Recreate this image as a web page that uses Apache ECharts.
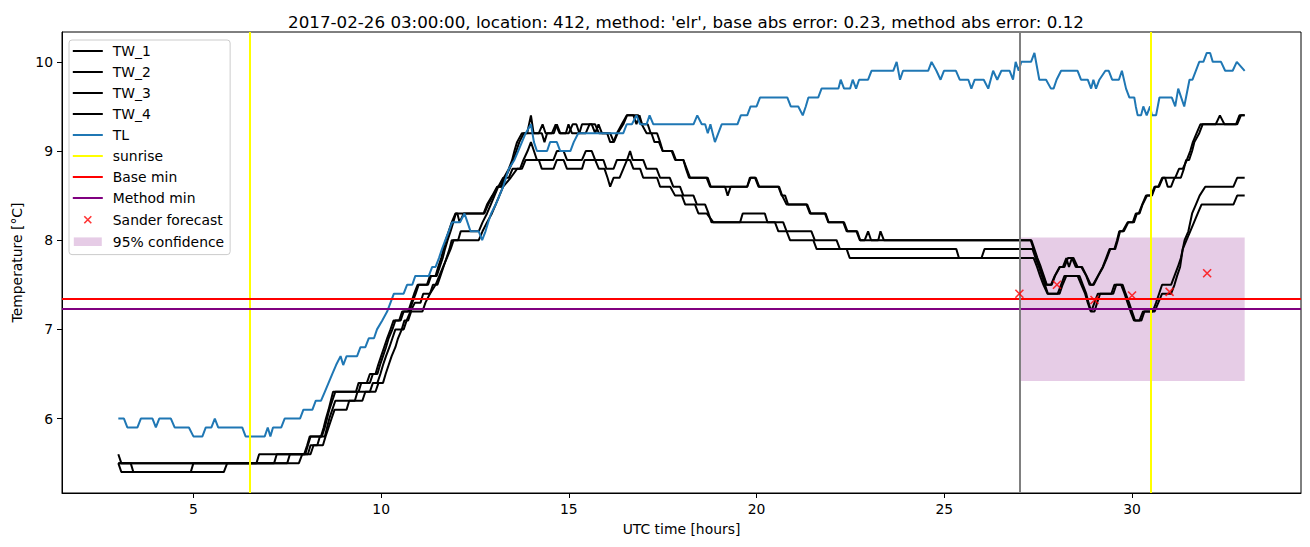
<!DOCTYPE html>
<html><head><meta charset="utf-8">
<script src="https://cdn.jsdelivr.net/npm/echarts@6/dist/echarts.min.js"></script>
<style>html,body{margin:0;padding:0;background:#fff}#chart{width:1310px;height:547px}</style>
</head><body><div id="chart"></div>
<script>
// ---------------- data ----------------
const TITLE = "2017-02-26 03:00:00, location: 412, method: 'elr', base abs error: 0.23, method abs error: 0.12";
const X_NAME = "UTC time [hours]";
const Y_NAME = "Temperature [°C]";
const X_TICKS = [5, 10, 15, 20, 25, 30];
const Y_TICKS = [6, 7, 8, 9, 10];

const TW_1 = [[3.0,5.6],[3.08,5.5],[6.68,5.5],[6.75,5.6],[7.95,5.6],[8.03,5.7],[8.1,5.8],[8.4,5.8],[8.47,5.9],[8.53,6.0],[8.6,6.1],[8.66,6.2],[8.72,6.3],[9.33,6.3],[9.4,6.4],[9.62,6.4],[9.7,6.5],[9.85,6.5],[9.92,6.6],[10.0,6.7],[10.08,6.8],[10.16,6.9],[10.25,7.0],[10.33,7.1],[10.48,7.1],[10.56,7.2],[10.72,7.2],[10.8,7.3],[10.88,7.4],[10.97,7.5],[11.22,7.5],[11.3,7.6],[11.45,7.6],[11.52,7.7],[11.6,7.8],[11.66,7.9],[11.72,8.0],[11.8,8.1],[11.88,8.2],[11.98,8.3],[12.73,8.3],[12.82,8.4],[12.96,8.5],[13.09,8.6],[13.18,8.6],[13.27,8.7],[13.4,8.8],[13.49,8.9],[13.55,9.0],[13.62,9.1],[13.75,9.2],[13.89,9.2],[13.99,9.4],[14.06,9.2],[14.28,9.2],[14.35,9.1],[14.42,9.2],[14.6,9.2],[14.68,9.3],[14.77,9.2],[14.92,9.2],[14.99,9.3],[15.08,9.2],[15.28,9.2],[15.35,9.3],[15.61,9.3],[15.7,9.2],[15.79,9.3],[15.88,9.2],[16.02,9.2],[16.1,9.1],[16.19,9.1],[16.28,9.2],[16.41,9.3],[16.54,9.4],[16.85,9.4],[16.94,9.3],[17.07,9.2],[17.2,9.2],[17.28,9.1],[17.4,9.1],[17.5,9.0],[17.74,9.0],[17.83,8.9],[18.05,8.9],[18.14,8.8],[18.23,8.7],[18.67,8.7],[18.76,8.6],[19.16,8.6],[19.23,8.5],[19.31,8.6],[19.75,8.6],[19.82,8.7],[19.96,8.7],[20.05,8.6],[20.58,8.6],[20.67,8.5],[20.76,8.5],[20.84,8.4],[21.33,8.4],[21.42,8.3],[21.82,8.3],[21.91,8.2],[22.31,8.2],[22.4,8.1],[22.66,8.1],[22.75,8.0],[22.88,8.0],[22.97,8.1],[23.05,8.0],[23.24,8.0],[23.3,8.1],[23.39,8.0],[27.32,8.0],[27.4,7.9],[27.48,7.8],[27.57,7.7],[27.65,7.6],[27.73,7.5],[27.84,7.5],[27.94,7.6],[28.07,7.7],[28.16,7.7],[28.25,7.8],[28.32,7.7],[28.4,7.8],[28.5,7.7],[28.65,7.7],[28.78,7.6],[28.87,7.5],[28.96,7.5],[29.09,7.6],[29.22,7.7],[29.31,7.8],[29.4,7.9],[29.53,7.9],[29.6,8.0],[29.66,8.1],[29.75,8.1],[29.88,8.2],[30.02,8.2],[30.1,8.3],[30.18,8.3],[30.27,8.4],[30.37,8.5],[30.51,8.5],[30.6,8.6],[30.7,8.6],[30.8,8.7],[30.88,8.7],[30.95,8.6],[31.04,8.6],[31.13,8.7],[31.3,8.7],[31.38,8.8],[31.44,8.9],[31.52,8.9],[31.6,9.0],[31.66,9.1],[31.79,9.2],[31.88,9.3],[32.23,9.3],[32.34,9.4],[32.46,9.3],[32.77,9.3],[32.86,9.4],[33.0,9.4]];

const TW_2 = [[3.0,5.5],[7.15,5.5],[7.22,5.6],[7.98,5.6],[8.05,5.7],[8.12,5.8],[8.42,5.8],[8.5,5.9],[8.56,6.0],[8.62,6.1],[8.7,6.2],[8.78,6.3],[9.4,6.3],[9.47,6.4],[9.7,6.4],[9.78,6.5],[9.9,6.5],[9.97,6.6],[10.05,6.7],[10.13,6.8],[10.2,6.9],[10.3,7.0],[10.38,7.1],[10.52,7.1],[10.6,7.2],[10.75,7.2],[10.83,7.3],[10.92,7.4],[11.0,7.5],[11.25,7.5],[11.33,7.6],[11.48,7.6],[11.56,7.7],[11.64,7.8],[11.7,7.9],[11.77,8.0],[11.85,8.1],[11.92,8.2],[11.99,8.3],[12.03,8.3],[12.09,8.2],[12.2,8.3],[12.75,8.3],[12.85,8.4],[12.98,8.5],[13.1,8.6],[13.22,8.6],[13.3,8.7],[13.42,8.8],[13.52,8.9],[13.6,9.0],[13.68,9.1],[13.8,9.2],[14.2,9.2],[14.3,9.3],[14.38,9.2],[14.55,9.2],[14.65,9.3],[14.75,9.2],[15.0,9.2],[15.1,9.3],[15.2,9.3],[15.28,9.2],[15.45,9.2],[15.55,9.3],[15.7,9.3],[15.8,9.2],[16.1,9.2],[16.2,9.1],[16.3,9.2],[16.45,9.3],[16.55,9.4],[16.72,9.4],[16.8,9.3],[16.88,9.4],[16.95,9.3],[17.1,9.3],[17.18,9.2],[17.35,9.2],[17.43,9.1],[17.5,9.0],[17.76,9.0],[17.85,8.9],[18.05,8.9],[18.12,8.8],[18.2,8.7],[18.7,8.7],[18.78,8.6],[19.75,8.6],[19.84,8.7],[19.98,8.7],[20.07,8.6],[20.6,8.6],[20.68,8.5],[20.8,8.4],[21.35,8.4],[21.44,8.3],[21.84,8.3],[21.92,8.2],[22.33,8.2],[22.42,8.1],[22.68,8.1],[22.76,8.0],[27.3,8.0],[27.38,7.9],[27.46,7.8],[27.55,7.7],[27.63,7.6],[27.72,7.5],[27.86,7.5],[27.95,7.6],[28.08,7.7],[28.2,7.7],[28.29,7.8],[28.44,7.8],[28.55,7.7],[28.67,7.7],[28.79,7.6],[28.9,7.5],[28.98,7.5],[29.1,7.6],[29.23,7.7],[29.33,7.8],[29.42,7.9],[29.55,7.9],[29.62,8.0],[29.68,8.1],[29.78,8.1],[29.9,8.2],[30.05,8.2],[30.13,8.3],[30.2,8.3],[30.28,8.4],[30.4,8.5],[30.53,8.5],[30.62,8.6],[30.72,8.6],[30.82,8.7],[31.15,8.7],[31.25,8.8],[31.35,8.8],[31.46,8.9],[31.55,9.0],[31.62,9.1],[31.72,9.2],[31.82,9.3],[32.8,9.3],[32.9,9.4],[33.0,9.4]];

const TW_3 = [[3.0,5.5],[3.08,5.4],[4.93,5.4],[5.0,5.5],[7.5,5.5],[7.57,5.6],[8.05,5.6],[8.12,5.7],[8.3,5.7],[8.37,5.8],[8.5,5.8],[8.56,5.9],[8.62,6.0],[8.7,6.1],[8.78,6.2],[9.3,6.2],[9.37,6.3],[9.7,6.3],[9.78,6.4],[9.9,6.4],[9.98,6.5],[10.05,6.6],[10.13,6.7],[10.22,6.8],[10.3,6.9],[10.38,7.0],[10.6,7.0],[10.68,7.1],[10.78,7.2],[10.9,7.3],[11.05,7.3],[11.12,7.4],[11.3,7.4],[11.38,7.5],[11.5,7.5],[11.58,7.6],[11.66,7.7],[11.74,7.8],[11.82,7.9],[11.88,8.0],[12.05,8.0],[12.12,8.1],[12.6,8.1],[12.7,8.2],[12.82,8.3],[12.92,8.4],[13.02,8.5],[13.12,8.6],[13.25,8.7],[13.4,8.7],[13.5,8.8],[13.7,8.8],[13.79,8.9],[13.9,9.0],[13.99,9.1],[14.07,9.0],[14.15,8.9],[14.59,8.9],[14.68,9.0],[14.86,9.0],[14.95,8.9],[15.35,8.9],[15.45,9.0],[15.61,9.0],[15.7,8.9],[15.92,8.9],[16.0,8.8],[16.19,8.8],[16.28,8.9],[16.55,8.9],[16.63,9.0],[16.7,8.9],[16.98,8.9],[17.07,8.8],[17.34,8.8],[17.43,8.7],[17.69,8.7],[17.78,8.6],[17.96,8.6],[18.05,8.5],[18.32,8.5],[18.41,8.4],[18.63,8.4],[18.72,8.3],[18.8,8.2],[19.56,8.2],[19.63,8.3],[20.22,8.3],[20.29,8.2],[20.71,8.2],[20.8,8.1],[21.46,8.1],[21.55,8.0],[22.13,8.0],[22.22,7.9],[25.32,7.9],[25.39,7.8],[25.99,7.8],[26.07,7.9],[27.35,7.9],[27.43,7.8],[27.52,7.7],[27.6,7.6],[27.68,7.5],[27.76,7.4],[28.02,7.4],[28.11,7.5],[28.2,7.6],[28.6,7.6],[28.69,7.5],[28.78,7.4],[28.84,7.3],[28.91,7.2],[29.0,7.3],[29.09,7.4],[29.45,7.4],[29.53,7.5],[29.71,7.5],[29.8,7.4],[29.88,7.3],[29.96,7.2],[30.05,7.1],[30.2,7.1],[30.29,7.2],[30.55,7.2],[30.64,7.3],[30.72,7.4],[30.8,7.5],[31.04,7.5],[31.13,7.6],[31.22,7.7],[31.3,7.8],[31.4,8.0],[31.5,8.1],[31.6,8.3],[31.7,8.4],[31.8,8.5],[31.95,8.6],[32.7,8.6],[32.8,8.7],[33.0,8.7]];

const TW_4 = [[3.0,5.5],[3.33,5.5],[3.4,5.4],[5.81,5.4],[5.9,5.5],[7.81,5.5],[7.9,5.6],[8.12,5.6],[8.2,5.7],[8.45,5.7],[8.52,5.8],[8.6,5.9],[8.68,6.0],[8.76,6.1],[9.08,6.1],[9.15,6.2],[9.5,6.2],[9.58,6.3],[9.85,6.3],[9.93,6.4],[10.05,6.4],[10.12,6.5],[10.2,6.6],[10.28,6.7],[10.38,6.8],[10.45,6.9],[10.55,7.0],[10.62,7.1],[10.72,7.1],[10.8,7.2],[11.1,7.2],[11.18,7.3],[11.3,7.4],[11.45,7.5],[11.55,7.6],[11.65,7.7],[11.75,7.8],[11.85,7.9],[11.93,8.0],[12.6,8.0],[12.7,8.1],[12.82,8.2],[12.95,8.3],[13.05,8.4],[13.15,8.5],[13.25,8.6],[13.45,8.7],[13.62,8.8],[13.75,8.8],[13.85,8.9],[14.2,8.9],[14.28,8.8],[14.59,8.8],[14.68,8.9],[14.86,8.9],[14.95,8.8],[15.35,8.8],[15.42,8.9],[15.7,8.9],[15.8,8.8],[15.95,8.8],[16.03,8.7],[16.1,8.6],[16.19,8.7],[16.35,8.7],[16.45,8.8],[16.55,8.9],[16.63,8.9],[16.72,8.8],[16.9,8.8],[16.98,8.7],[17.35,8.7],[17.43,8.6],[17.7,8.6],[17.83,8.5],[18.01,8.5],[18.1,8.4],[18.36,8.4],[18.45,8.3],[18.67,8.3],[18.85,8.2],[20.49,8.2],[20.58,8.1],[20.8,8.1],[20.89,8.0],[21.51,8.0],[21.6,7.9],[22.4,7.9],[22.48,7.8],[27.38,7.8],[27.47,7.7],[27.55,7.6],[27.64,7.5],[27.75,7.4],[28.07,7.4],[28.15,7.5],[28.25,7.6],[28.55,7.6],[28.65,7.5],[28.75,7.4],[28.82,7.3],[28.9,7.2],[29.0,7.2],[29.07,7.3],[29.15,7.4],[29.5,7.4],[29.58,7.5],[29.75,7.5],[29.83,7.4],[29.92,7.3],[30.0,7.2],[30.08,7.1],[30.25,7.1],[30.33,7.2],[30.6,7.2],[30.7,7.3],[30.8,7.4],[31.04,7.4],[31.13,7.5],[31.2,7.6],[31.28,7.7],[31.35,7.9],[31.45,8.0],[31.55,8.1],[31.65,8.2],[31.75,8.3],[31.85,8.4],[32.7,8.4],[32.8,8.5],[33.0,8.5]];

const TL = [[3.0,6.0],[3.15,6.0],[3.24,5.9],[3.51,5.9],[3.6,6.0],[3.91,6.0],[4.0,5.9],[4.09,6.0],[4.4,6.0],[4.5,5.9],[4.88,5.9],[5.0,5.8],[5.24,5.8],[5.33,5.9],[5.48,5.9],[5.57,6.0],[5.66,5.9],[6.3,5.9],[6.39,5.8],[6.9,5.8],[6.98,5.9],[7.05,5.8],[7.12,5.9],[7.34,5.9],[7.43,6.0],[7.84,6.0],[7.93,6.1],[8.17,6.1],[8.26,6.2],[8.4,6.2],[8.5,6.3],[8.6,6.4],[8.7,6.5],[8.8,6.6],[8.92,6.7],[8.99,6.6],[9.08,6.7],[9.36,6.7],[9.45,6.8],[9.58,6.8],[9.67,6.9],[9.81,6.9],[9.89,7.0],[10.03,7.1],[10.16,7.2],[10.25,7.3],[10.34,7.4],[10.6,7.4],[10.69,7.5],[10.83,7.5],[10.91,7.6],[11.27,7.6],[11.36,7.7],[11.45,7.7],[11.54,7.8],[11.62,7.9],[11.71,8.0],[11.8,8.1],[11.89,8.2],[12.1,8.2],[12.22,8.3],[12.3,8.2],[12.38,8.1],[12.6,8.1],[12.69,8.0],[12.78,8.1],[12.85,8.2],[12.93,8.3],[13.05,8.4],[13.15,8.5],[13.25,8.6],[13.4,8.8],[13.55,8.9],[13.65,9.0],[13.75,9.1],[13.85,9.2],[13.99,9.3],[14.07,9.1],[14.15,9.0],[14.42,9.0],[14.5,9.1],[14.68,9.1],[14.77,9.0],[15.04,9.0],[15.13,9.1],[15.25,9.2],[16.45,9.2],[16.54,9.3],[16.68,9.3],[16.8,9.4],[16.9,9.3],[17.07,9.3],[17.15,9.4],[17.25,9.3],[18.32,9.3],[18.42,9.4],[18.54,9.3],[18.63,9.3],[18.7,9.2],[18.77,9.3],[18.89,9.1],[19.07,9.3],[19.49,9.3],[19.58,9.4],[19.75,9.4],[19.84,9.5],[20.0,9.5],[20.09,9.6],[20.82,9.6],[20.91,9.5],[21.11,9.5],[21.23,9.4],[21.31,9.5],[21.38,9.6],[21.64,9.6],[21.73,9.7],[22.18,9.7],[22.24,9.8],[22.33,9.7],[22.49,9.7],[22.56,9.8],[22.65,9.7],[22.73,9.8],[22.97,9.8],[23.06,9.9],[23.64,9.9],[23.73,10.0],[23.82,9.8],[23.9,9.9],[24.57,9.9],[24.66,10.0],[24.79,9.9],[24.9,9.8],[24.99,9.9],[25.31,9.9],[25.41,9.8],[25.64,9.8],[25.72,9.7],[25.81,9.8],[26.05,9.8],[26.17,9.7],[26.3,9.9],[26.41,9.8],[26.52,9.9],[26.74,9.9],[26.83,9.8],[26.9,10.0],[26.98,9.9],[27.05,10.0],[27.31,10.0],[27.4,10.1],[27.53,9.8],[27.71,9.8],[27.84,9.7],[27.91,9.7],[27.99,9.8],[28.11,9.9],[28.55,9.9],[28.64,9.8],[28.82,9.8],[28.91,9.7],[28.97,9.8],[29.04,9.7],[29.13,9.8],[29.29,9.9],[29.38,9.9],[29.47,9.8],[29.65,9.8],[29.73,9.9],[29.84,9.7],[29.93,9.6],[30.06,9.6],[30.1,9.5],[30.15,9.4],[30.24,9.4],[30.3,9.5],[30.39,9.4],[30.48,9.5],[30.53,9.4],[30.64,9.4],[30.73,9.6],[31.06,9.6],[31.15,9.5],[31.23,9.7],[31.39,9.5],[31.53,9.8],[31.61,9.8],[31.79,10.0],[31.9,10.0],[31.99,10.1],[32.08,10.1],[32.15,10.0],[32.37,10.0],[32.48,9.9],[32.68,9.9],[32.79,10.0],[33.0,9.9]];

const SUNRISE_HOURS = [6.5, 30.5];
const BASE_MIN = 7.34;
const METHOD_MIN = 7.23;
const FORECAST_START = 27.0;
const SANDER_HOURS = [27, 28, 29, 30, 31, 32];
const SANDER_VALUES = [7.40, 7.50, 7.33, 7.38, 7.42, 7.63];
const CONF_HOURS = [27, 33];
const CONF_LOW = 6.42;
const CONF_HIGH = 8.03;

// ---------------- chart ----------------
const FONT = 'DejaVu Sans';
const FS = 13.9;
const LINE_ICON = 'path://M0,0 M30,14 M0,6 L30,6 L30,8 L0,8 Z';
const X_ICON = 'path://M0,0 M30,14 M11.5,3.5 L18.5,10.5 M18.5,3.5 L11.5,10.5';
const PATCH_ICON = 'path://M0,0 M30,14 M1,2.8 L29,2.8 L29,11.4 L1,11.4 Z';
const X_MARK = 'path://M0,0 L10,10 M10,0 L0,10';

function lineSeries(name, data, color, z) {
  return { name, type: 'line', data, symbol: 'none', showSymbol: false, z,
    color, lineStyle: { color, width: 2 }, itemStyle: { color, borderWidth: 0 },
    emphasis: { disabled: true }, silent: true };
}
function markSeries(name, color, lines, z) {
  return { name, type: 'line', data: [], symbol: 'none', color, z,
    itemStyle: { color, borderWidth: 0 }, lineStyle: { color, width: 2 }, silent: true,
    markLine: { silent: true, symbol: ['none', 'none'], label: { show: false },
      lineStyle: { color, width: 2, type: 'solid' }, emphasis: { disabled: true }, data: lines } };
}

const series = [
  lineSeries('TW_1', TW_1, '#000000', 3),
  lineSeries('TW_2', TW_2, '#000000', 3),
  lineSeries('TW_3', TW_3, '#000000', 3),
  lineSeries('TW_4', TW_4, '#000000', 3),
  lineSeries('TL', TL, '#1f77b4', 4),
  markSeries('sunrise', '#ffff00', SUNRISE_HOURS.map(h => ({ xAxis: h })), 5),
  markSeries('Base min', '#ff0000', [{ yAxis: BASE_MIN }], 5),
  markSeries('Method min', '#800080', [{ yAxis: METHOD_MIN }], 5),
  markSeries('forecast start', '#808080', [{ xAxis: FORECAST_START }], 5),
  { name: 'Sander forecast', type: 'scatter', z: 6, symbol: X_MARK, symbolSize: 8,
    data: SANDER_HOURS.map((h, i) => [h, SANDER_VALUES[i]]), silent: true,
    itemStyle: { color: '#ff0000', borderColor: '#ff0000', borderWidth: 1.6 } },
  { name: '95% confidence', type: 'line', data: [], z: 1, color: 'rgba(128,0,128,0.2)',
    itemStyle: { color: 'rgba(128,0,128,0.2)', borderWidth: 0 }, silent: true,
    markArea: { silent: true, itemStyle: { color: 'rgba(128,0,128,0.2)' },
      data: [[{ coord: [CONF_HOURS[0], CONF_LOW] }, { coord: [CONF_HOURS[1], CONF_HIGH] }]] } }
];

const legendNames = ['TW_1', 'TW_2', 'TW_3', 'TW_4', 'TL', 'sunrise', 'Base min', 'Method min'];
const legendData = legendNames.map(n => ({ name: n, icon: LINE_ICON }));
legendData.push({ name: 'Sander forecast', icon: X_ICON, itemStyle: { borderColor: '#ff0000', borderWidth: 1.6 } });
legendData.push({ name: '95% confidence', icon: PATCH_ICON });

const option = {
  animation: false,
  backgroundColor: '#ffffff',
  title: { text: TITLE, left: 681, top: 8, textAlign: 'center',
    textStyle: { fontFamily: FONT, fontSize: 16.7, fontWeight: 'normal', color: '#000' } },
  grid: { left: 62, right: 9, top: 32, bottom: 54, show: true, borderColor: '#000', borderWidth: 1, backgroundColor: 'transparent' },
  legend: { orient: 'vertical', left: 69, top: 40, itemWidth: 30, itemHeight: 14, itemGap: 7,
    selectedMode: false, data: legendData, padding: [4, 6, 6, 3],
    backgroundColor: 'rgba(255,255,255,0.8)', borderColor: '#cccccc', borderWidth: 1, borderRadius: 3,
    itemStyle: { borderWidth: 0 },
    textStyle: { fontFamily: FONT, fontSize: FS, color: '#000', lineHeight: 14, padding: [0, 0, 0, 5] } },
  xAxis: { type: 'value', min: 1.5, max: 34.5, name: X_NAME, nameLocation: 'middle', nameGap: 29,
    nameTextStyle: { fontFamily: FONT, fontSize: FS, color: '#000' },
    axisLine: { show: true, onZero: false, lineStyle: { color: '#000', width: 1 } },
    axisTick: { show: true, length: 5, inside: false, lineStyle: { color: '#000', width: 1 }, customValues: X_TICKS },
    axisLabel: { fontFamily: FONT, fontSize: FS, color: '#000', margin: 9, customValues: X_TICKS },
    splitLine: { show: false } },
  yAxis: { type: 'value', min: 5.165, max: 10.335, name: Y_NAME, nameLocation: 'middle', nameGap: 38,
    nameTextStyle: { fontFamily: FONT, fontSize: FS, color: '#000' },
    axisLine: { show: true, onZero: false, lineStyle: { color: '#000', width: 1 } },
    axisTick: { show: true, length: 5, inside: false, lineStyle: { color: '#000', width: 1 }, customValues: Y_TICKS },
    axisLabel: { fontFamily: FONT, fontSize: FS, color: '#000', margin: 9, customValues: Y_TICKS },
    splitLine: { show: false } },
  series
};

const chart = echarts.init(document.getElementById('chart'), null, { renderer: 'svg', width: 1310, height: 547 });
chart.setOption(option);
</script>
</body></html>
